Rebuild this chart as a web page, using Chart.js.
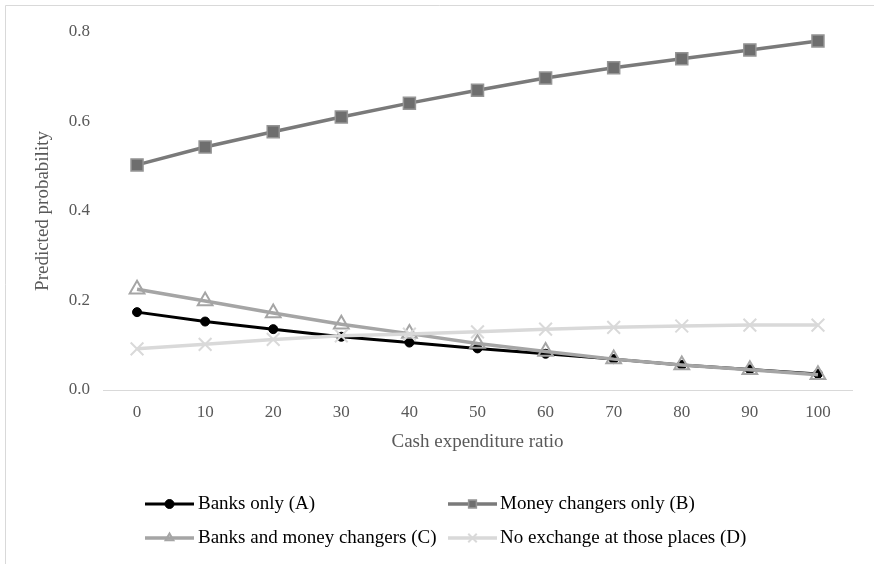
<!DOCTYPE html>
<html>
<head>
<meta charset="utf-8">
<script src="https://cdn.jsdelivr.net/npm/chart.js@4"></script>
<style>
html,body{margin:0;padding:0;background:#fff;}
#wrap{position:relative;width:874px;height:564px;}
</style>
</head>
<body>
<div id="wrap"><canvas id="c" width="874" height="564"></canvas></div>
<script>
const categories = ['0','10','20','30','40','50','60','70','80','90','100'];
const banksOnly = [0.174,0.153,0.136,0.119,0.106,0.093,0.081,0.069,0.056,0.046,0.036];
const moneyChangersOnly = [0.503,0.543,0.577,0.610,0.641,0.670,0.697,0.720,0.740,0.760,0.780];
const banksAndMoneyChangers = [0.225,0.199,0.172,0.147,0.126,0.104,0.086,0.069,0.056,0.045,0.034];
const noExchange = [0.092,0.102,0.113,0.121,0.125,0.130,0.136,0.140,0.143,0.145,0.145];
const seriesNames = ['Banks only (A)','Money changers only (B)','Banks and money changers (C)','No exchange at those places (D)'];
const yMin = 0, yMax = 0.8, yStep = 0.2;
const xTitle = 'Cash expenditure ratio';
const yTitle = 'Predicted probability';

const FONT = 'Liberation Serif';
const TICK_COLOR = '#595959';

const legendPlugin = {
  id: 'customLegend',
  afterDraw(chart) {
    const ctx = chart.ctx;
    const pos = [
      {lx: 145, tx: 198, y: 504},
      {lx: 448, tx: 500, y: 504},
      {lx: 145, tx: 198, y: 538},
      {lx: 448, tx: 500, y: 538}
    ];
    chart.data.datasets.forEach((ds, i) => {
      const p = pos[i];
      const len = 49;
      ctx.save();
      ctx.strokeStyle = ds.borderColor;
      ctx.lineWidth = ds.borderWidth;
      ctx.beginPath();
      ctx.moveTo(p.lx, p.y);
      ctx.lineTo(p.lx + len, p.y);
      ctx.stroke();
      const r = ds.legendRadius;
      ctx.fillStyle = ds.pointBackgroundColor;
      ctx.strokeStyle = ds.pointBorderColor;
      ctx.lineWidth = ds.pointBorderWidth;
      Chart.helpers.drawPoint(ctx, {pointStyle: ds.pointStyle, radius: r, borderWidth: ds.pointBorderWidth, rotation: 0}, p.lx + len / 2, p.y);
      ctx.fillStyle = '#000';
      ctx.font = '19px "' + FONT + '"';
      ctx.textBaseline = 'middle';
      ctx.textAlign = 'left';
      ctx.fillText(ds.label, p.tx, p.y);
      ctx.restore();
    });
  },
  beforeDraw(chart) {
    const ctx = chart.ctx;
    ctx.save();
    ctx.fillStyle = '#fff';
    ctx.fillRect(0, 0, chart.width, chart.height);
    ctx.strokeStyle = '#d9d9d9';
    ctx.lineWidth = 1;
    ctx.beginPath();
    ctx.moveTo(5.5, 564);
    ctx.lineTo(5.5, 5.5);
    ctx.lineTo(874, 5.5);
    ctx.stroke();
    ctx.restore();
  }
};

new Chart(document.getElementById('c'), {
  type: 'line',
  data: {
    labels: categories,
    datasets: [
      {label: seriesNames[0], data: banksOnly, borderColor: '#000000', borderWidth: 3,
       pointStyle: 'circle', pointRadius: 4.5, legendRadius: 4.5, pointBackgroundColor: '#000000', pointBorderColor: '#000000', pointBorderWidth: 1, order: 4, tension: 0},
      {label: seriesNames[1], data: moneyChangersOnly, borderColor: '#7a7a7a', borderWidth: 3.5,
       pointStyle: 'rect', pointRadius: 8.5, legendRadius: 5.5, pointBackgroundColor: '#6e6e6e', pointBorderColor: '#959595', pointBorderWidth: 1.5, order: 3, tension: 0},
      {label: seriesNames[2], data: banksAndMoneyChangers, borderColor: '#a5a5a5', borderWidth: 3.5,
       pointStyle: 'triangle', pointRadius: 8.5, legendRadius: 4.5, pointBackgroundColor: 'rgba(255,255,255,0)', pointBorderColor: '#a5a5a5', pointBorderWidth: 2, order: 2, tension: 0},
      {label: seriesNames[3], data: noExchange, borderColor: '#d9d9d9', borderWidth: 3.5,
       pointStyle: 'crossRot', pointRadius: 9, legendRadius: 6, pointBackgroundColor: '#d9d9d9', pointBorderColor: '#d9d9d9', pointBorderWidth: 2, order: 1, tension: 0}
    ]
  },
  options: {
    responsive: false,
    animation: false,
    layout: {padding: {left: 5, right: 22, top: 32, bottom: 104}},
    plugins: {legend: {display: false}, tooltip: {enabled: false}},
    elements: {point: {hoverRadius: 0}},
    scales: {
      x: {
        offset: true,
        grid: {display: false, drawTicks: false},
        border: {display: true, color: '#d9d9d9', width: 1},
        ticks: {color: TICK_COLOR, font: {family: FONT, size: 17}, padding: 12, maxRotation: 0},
        title: {display: true, text: xTitle, color: TICK_COLOR, font: {family: FONT, size: 19}, padding: {top: 4, bottom: 7}},
        afterFit(scale) { scale.height = 70; }
      },
      y: {
        min: yMin, max: yMax,
        grid: {display: false, drawTicks: false},
        border: {display: false},
        ticks: {stepSize: yStep, color: TICK_COLOR, font: {family: FONT, size: 17}, padding: 13,
          callback: v => v.toFixed(1)},
        title: {display: true, text: yTitle, color: TICK_COLOR, font: {family: FONT, size: 19}, padding: {top: 27, bottom: 0}},
        afterFit(scale) { scale.width = 98; }
      }
    }
  },
  plugins: [legendPlugin]
});
</script>
</body>
</html>
